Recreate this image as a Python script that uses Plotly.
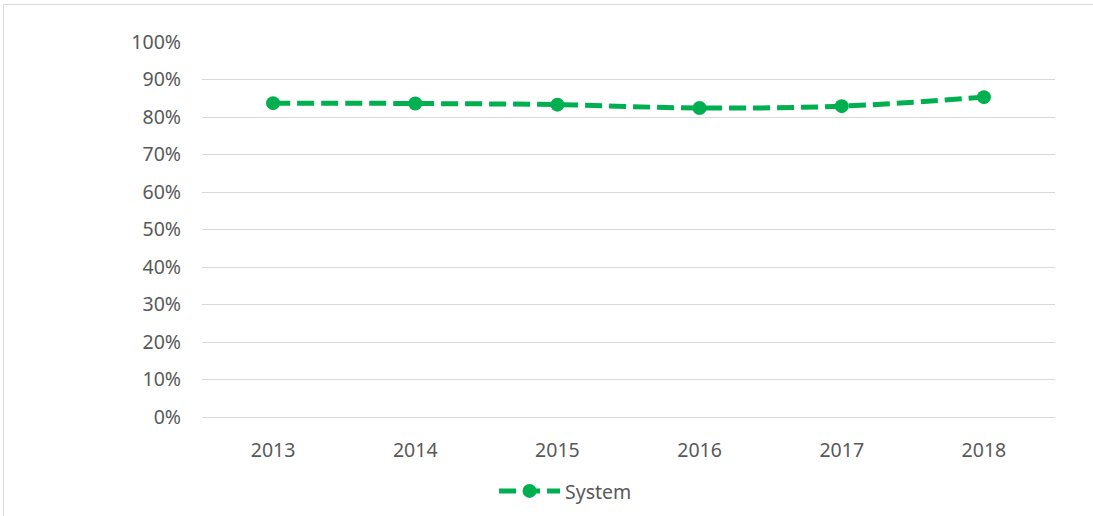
import plotly.graph_objects as go

years = ["2013", "2014", "2015", "2016", "2017", "2018"]
system = [0.837, 0.836, 0.833, 0.824, 0.829, 0.853]
y_ticks = [0, 0.1, 0.2, 0.3, 0.4, 0.5, 0.6, 0.7, 0.8, 0.9, 1.0]

GREEN = "#00B050"
GRID = "#D9D9D9"
TEXT = "#595959"
FONT = "Noto Sans, Arial"

fig = go.Figure(go.Scatter(
    x=years,
    y=system,
    name="System",
    mode="lines+markers",
    line=dict(color=GREEN, width=5, dash="17px,7px", shape="spline"),
    marker=dict(color=GREEN, size=14, symbol="circle"),
))

# chart frame (Excel-style light border)
W, H = 1093, 516
L, R, T, B = 202, 38, 42, 99
pw, ph = W - L - R, H - T - B
def px_x(p):
    return (p - L) / pw
def px_y(p):
    return (H - B - p) / ph

fig.add_shape(
    type="rect", xref="paper", yref="paper",
    x0=px_x(3.5), x1=px_x(W + 20), y0=px_y(H + 20), y1=px_y(4.5),
    line=dict(color=GRID, width=1), fillcolor="rgba(0,0,0,0)", layer="below",
)

fig.update_layout(
    width=W, height=H,
    paper_bgcolor="white", plot_bgcolor="white",
    font=dict(family=FONT, size=19.5, color=TEXT),
    margin=dict(l=L, r=R, t=T, b=B, autoexpand=False),
    showlegend=True,
    legend=dict(
        orientation="h", xref="container", yref="container",
        x=0.452, xanchor="left", y=0.048, yanchor="middle",
        itemwidth=61,
        font=dict(size=19.5, color=TEXT),
    ),
    xaxis=dict(
        type="category", range=[-0.5, 5.5], automargin=False,
        showgrid=False, showline=False, ticks="",
        ticklabelstandoff=19,
        tickfont=dict(size=19.5, color=TEXT),
    ),
    yaxis=dict(
        range=[0, 1], tickvals=y_ticks, tickformat=".0%", automargin=False,
        showgrid=True, gridcolor=GRID, gridwidth=1,
        zeroline=True, zerolinecolor=GRID, zerolinewidth=1,
        showline=False, ticks="",
        ticklabelstandoff=20,
        tickfont=dict(size=19.5, color=TEXT),
    ),
)

fig.write_html(
    "out.html",
    config={"displayModeBar": False},
    post_script="document.body.style.margin='0';",
)
